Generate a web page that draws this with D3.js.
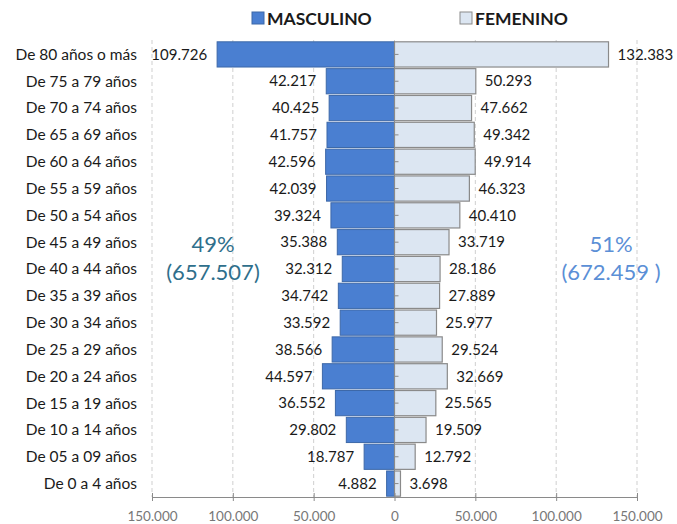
<!DOCTYPE html>
<html>
<head>
<meta charset="utf-8">
<script src="https://cdn.jsdelivr.net/npm/d3@7"></script>
<style>
  body { margin: 0; background: #fff; }
  svg { font-family: Lato, "Open Sans", sans-serif; }
</style>
</head>
<body>
<div id="chart-container"></div>
<script>
const ageGroups = [
  "De 80 años o más", "De 75 a 79 años", "De 70 a 74 años", "De 65 a 69 años",
  "De 60 a 64 años", "De 55 a 59 años", "De 50 a 54 años", "De 45 a 49 años",
  "De 40 a 44 años", "De 35 a 39 años", "De 30 a 34 años", "De 25 a 29 años",
  "De 20 a 24 años", "De 15 a 19 años", "De 10 a 14 años", "De 05 a 09 años",
  "De 0 a 4 años"
];
const maleValues = [
  109726, 42217, 40425, 41757, 42596, 42039, 39324, 35388,
  32312, 34742, 33592, 38566, 44597, 36552, 29802, 18787, 4882
];
const femaleValues = [
  132383, 50293, 47662, 49342, 49914, 46323, 40410, 33719,
  28186, 27889, 25977, 29524, 32669, 25565, 19509, 12792, 3698
];
const xTicks = [-150000, -100000, -50000, 0, 50000, 100000, 150000];
const seriesNames = ["MASCULINO", "FEMENINO"];
const totals = { male: ["49%", "(657.507)"], female: ["51%", "(672.459 )"] };

const width = 677, height = 524;
const locale = d3.formatLocale({ decimal: ",", thousands: ".", grouping: [3], currency: ["", ""] });
const fmt = locale.format(",d");

const svg = d3.select("#chart-container").append("svg")
  .attr("width", width).attr("height", height);

const x = d3.scaleLinear().domain([-150000, 150000]).range([152, 637]);
const y = d3.scaleBand().domain(ageGroups).range([41, 497]).paddingInner(0.06).paddingOuter(0.03);

const maleFill = "#4a7fd1", maleStroke = "#3d68a8";
const femaleFill = "#dce6f2", femaleStroke = "#8a8a8a";

// grid
svg.append("g").selectAll("line").data(xTicks).join("line")
  .attr("x1", (d) => x(d)).attr("x2", (d) => x(d))
  .attr("y1", 40).attr("y2", 497)
  .attr("stroke", "#cfcfcf").attr("stroke-dasharray", "4,3");

const rows = ageGroups.map((g, i) => ({ group: g, male: maleValues[i], female: femaleValues[i] }));

// bars
svg.append("g").selectAll("rect").data(rows).join("rect")
  .attr("x", (d) => x(-d.male)).attr("width", (d) => x(0) - x(-d.male))
  .attr("y", (d) => y(d.group)).attr("height", y.bandwidth())
  .attr("fill", maleFill).attr("stroke", maleStroke).attr("stroke-width", 1);

svg.append("g").selectAll("rect").data(rows).join("rect")
  .attr("x", x(0)).attr("width", (d) => x(d.female) - x(0))
  .attr("y", (d) => y(d.group)).attr("height", y.bandwidth())
  .attr("fill", femaleFill).attr("stroke", femaleStroke).attr("stroke-width", 1.2);

// centre axis with small ticks
const centre = svg.append("g");
centre.append("line").attr("x1", x(0)).attr("x2", x(0)).attr("y1", 41).attr("y2", 497)
  .attr("stroke", "#8a8a8a");
centre.selectAll(".ct").data(ageGroups).join("line")
  .attr("x1", x(0)).attr("x2", x(0) + 4)
  .attr("y1", (d) => y(d) + y.bandwidth() / 2).attr("y2", (d) => y(d) + y.bandwidth() / 2)
  .attr("stroke", "#8a8a8a");

// value labels
svg.append("g").selectAll("text").data(rows).join("text")
  .attr("x", (d) => x(-d.male) - 10)
  .attr("y", (d) => y(d.group) + y.bandwidth() / 2)
  .attr("dy", "0.35em").attr("text-anchor", "end")
  .attr("font-size", 15).attr("fill", "#1a1a1a")
  .text((d) => fmt(d.male));

svg.append("g").selectAll("text").data(rows).join("text")
  .attr("x", (d) => x(d.female) + 9)
  .attr("y", (d) => y(d.group) + y.bandwidth() / 2)
  .attr("dy", "0.35em").attr("text-anchor", "start")
  .attr("font-size", 15).attr("fill", "#1a1a1a")
  .text((d) => fmt(d.female));

// category labels
svg.append("g").selectAll("text").data(ageGroups).join("text")
  .attr("x", 137).attr("y", (d) => y(d) + y.bandwidth() / 2)
  .attr("dy", "0.35em").attr("text-anchor", "end")
  .attr("font-size", 15.5).attr("fill", "#1a1a1a")
  .text((d) => d);

// bottom axis
const xAxis = d3.axisBottom(x).tickValues(xTicks).tickSize(0)
  .tickFormat((d) => fmt(Math.abs(d)));
const axisG = svg.append("g").attr("transform", "translate(0,497)").call(xAxis);
axisG.select(".domain").attr("stroke", "#8a8a8a");
axisG.selectAll("text").attr("font-size", 13.5).attr("fill", "#777")
  .attr("font-family", "Lato, sans-serif").attr("dy", "1.55em");
axisG.selectAll(".tick").append("line").attr("y1", -4).attr("y2", 4).attr("stroke", "#8a8a8a");

// totals
const maleTot = svg.append("text").attr("text-anchor", "middle")
  .attr("font-size", 22).attr("fill", "#2f6f8c");
maleTot.selectAll("tspan").data(totals.male).join("tspan")
  .attr("x", 213).attr("y", (d, i) => 252 + i * 28).text((d) => d);

const femTot = svg.append("text").attr("text-anchor", "middle")
  .attr("font-size", 22).attr("fill", "#5b8fd6");
femTot.selectAll("tspan").data(totals.female).join("tspan")
  .attr("x", 611).attr("y", (d, i) => 252 + i * 28).text((d) => d);

// legend
const legend = svg.append("g");
const legendItems = [
  { name: seriesNames[0], fill: maleFill, stroke: maleStroke, x: 252 },
  { name: seriesNames[1], fill: femaleFill, stroke: femaleStroke, x: 460 }
];
legendItems.forEach((it) => {
  legend.append("rect").attr("x", it.x).attr("y", 12).attr("width", 12).attr("height", 12)
    .attr("fill", it.fill).attr("stroke", it.stroke);
  legend.append("text").attr("x", it.x + 15).attr("y", 24.5)
    .attr("font-size", 17.5).attr("font-weight", "bold").attr("fill", "#1a1a1a")
    .text(it.name);
});
</script>
</body>
</html>
